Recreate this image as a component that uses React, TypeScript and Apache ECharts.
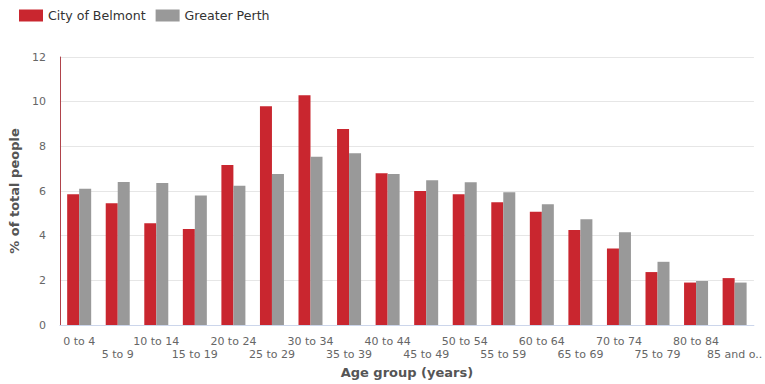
import React, { useEffect, useRef } from "react";
import * as echarts from "echarts";

const categories = [
  "0 to 4", "5 to 9", "10 to 14", "15 to 19", "20 to 24", "25 to 29",
  "30 to 34", "35 to 39", "40 to 44", "45 to 49", "50 to 54", "55 to 59",
  "60 to 64", "65 to 69", "70 to 74", "75 to 79", "80 to 84", "85 and over",
];
const belmont = [5.85, 5.45, 4.56, 4.3, 7.16, 9.8, 10.29, 8.78, 6.79, 6.0, 5.85, 5.5, 5.07, 4.25, 3.42, 2.37, 1.9, 2.1];
const perth = [6.1, 6.4, 6.36, 5.8, 6.24, 6.76, 7.53, 7.69, 6.76, 6.48, 6.39, 5.94, 5.41, 4.74, 4.15, 2.83, 1.97, 1.9];
const yTicks = { min: 0, max: 12, interval: 2 };

const FONT = "DejaVu Sans";

export default function App() {
  const ref = useRef<HTMLDivElement>(null);
  useEffect(() => {
    if (!ref.current) return;
    const chart = echarts.init(ref.current, null, { renderer: "svg" });
    chart.setOption({
      animation: false,
      textStyle: { fontFamily: FONT },
      legend: {
        left: 19,
        top: 9,
        padding: 0,
        itemWidth: 24,
        itemHeight: 12,
        itemGap: 10,
        icon: "rect",
        textStyle: { fontSize: 12.6, color: "#333", fontFamily: FONT },
        data: ["City of Belmont", "Greater Perth"],
      },
      grid: { left: 59, right: 4, top: 57, bottom: 57.5, containLabel: false },
      xAxis: {
        type: "category",
        data: categories,
        name: "Age group (years)",
        nameLocation: "middle",
        nameGap: 41,
        nameTextStyle: { fontSize: 13, fontWeight: "bold", color: "#555", fontFamily: FONT },
        axisLine: { lineStyle: { color: "#ccd6eb" } },
        axisTick: { alignWithLabel: true, length: 8, lineStyle: { color: "#ccd6eb" }, interval: 0 },
        axisLabel: {
          interval: 0,
          margin: 10,
          fontSize: 11,
          lineHeight: 13,
          color: "#666",
          fontFamily: FONT,
          formatter: (v: string, i: number) => {
            const t = v === "85 and over" ? "85 and o.." : v;
            return i % 2 === 1 ? "\n" + t : t;
          },
        },
      },
      yAxis: {
        type: "value",
        min: yTicks.min,
        max: yTicks.max,
        interval: yTicks.interval,
        name: "% of total people",
        nameLocation: "middle",
        nameGap: 31,
        nameRotate: 90,
        nameTextStyle: { fontSize: 13, fontWeight: "bold", color: "#555", fontFamily: FONT },
        axisLine: { show: true, lineStyle: { color: "#b0434b", width: 1 } },
        axisTick: { show: false },
        axisLabel: { margin: 14, fontSize: 11, color: "#666", fontFamily: FONT },
        splitLine: { lineStyle: { color: "#e6e6e6" } },
      },
      series: [
        {
          name: "City of Belmont",
          type: "bar",
          data: belmont,
          barWidth: 12,
          barGap: "0%",
          itemStyle: { color: "#c9262f" },
        },
        {
          name: "Greater Perth",
          type: "bar",
          data: perth,
          barWidth: 12,
          itemStyle: { color: "#999999" },
        },
      ],
    });
    return () => chart.dispose();
  }, []);
  return (
    <div
      ref={ref}
      style={{ position: "absolute", left: 0, top: 0, width: 765, height: 384, background: "#fff" }}
    />
  );
}
